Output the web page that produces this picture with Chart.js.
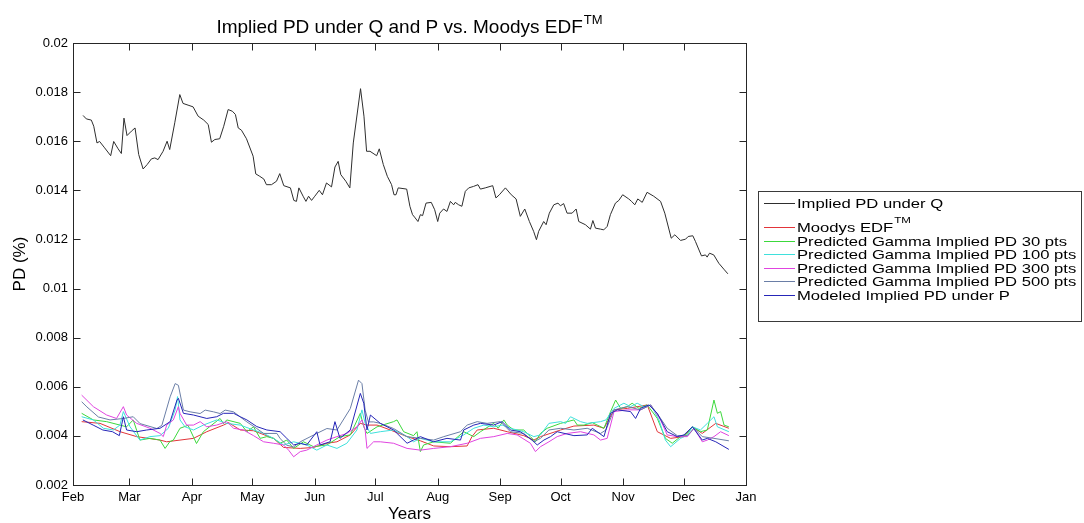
<!DOCTYPE html>
<html>
<head>
<meta charset="utf-8">
<title>Implied PD under Q and P vs. Moodys EDF</title>
<script src="https://cdn.jsdelivr.net/npm/chart.js@4.4.1/dist/chart.umd.min.js"></script>
<style>
  html, body { margin: 0; padding: 0; background: #ffffff; }
  canvas { display: block; }
</style>
</head>
<body>
<canvas id="pd" width="1084" height="523"></canvas>
<script>
// Month boundaries as day offsets from 1 Feb, and their labels
const monthDays = [0, 28, 59, 89, 120, 150, 181, 212, 242, 273, 303, 334];
const monthLabels = ['Feb', 'Mar', 'Apr', 'May', 'Jun', 'Jul', 'Aug', 'Sep', 'Oct', 'Nov', 'Dec', 'Jan'];
const yTickValues = [0.002, 0.004, 0.006, 0.008, 0.01, 0.012, 0.014, 0.016, 0.018, 0.02];

// Series: [day offset from 1 Feb, probability of default]
const impliedQ = [
  [5.0,0.01705],[6.6,0.01691],[9.1,0.01686],[10.3,0.01661],[11.9,0.01593],[13.2,0.01599],[15.7,0.01573],[18.7,0.01541],
  [20.2,0.01599],[22.4,0.01569],[24.0,0.01550],[25.3,0.01694],[26.8,0.01623],[29.0,0.01641],[30.8,0.01654],[32.6,0.01546],
  [34.8,0.01487],[36.8,0.01505],[38.9,0.01528],[40.6,0.01532],[42.2,0.01525],[44.7,0.01559],[46.7,0.01600],[48.0,0.01566],
  [50.5,0.01675],[53.0,0.01790],[54.6,0.01754],[57.1,0.01747],[59.6,0.01740],[62.1,0.01702],[64.9,0.01686],[67.1,0.01668],
  [68.7,0.01596],[70.4,0.01607],[72.8,0.01610],[74.8,0.01661],[77.0,0.01729],[79.1,0.01722],[80.6,0.01709],[82.0,0.01654],
  [83.6,0.01645],[86.1,0.01610],[89.4,0.01539],[90.7,0.01467],[92.7,0.01457],[94.7,0.01446],[96.0,0.01423],[98.5,0.01423],
  [101.0,0.01437],[102.6,0.01468],[104.6,0.01419],[107.9,0.01410],[109.6,0.01359],[110.9,0.01355],[112.1,0.01410],[114.2,0.01376],
  [115.6,0.01355],[116.9,0.01376],[118.4,0.01359],[120.0,0.01376],[122.2,0.01400],[123.8,0.01382],[125.8,0.01430],[128.3,0.01414],
  [130.0,0.01495],[131.6,0.01518],[132.9,0.01464],[135.4,0.01437],[137.4,0.01410],[139.1,0.01593],[142.7,0.01814],[144.4,0.01702],
  [145.7,0.01559],[147.4,0.01559],[150.7,0.01541],[152.0,0.01569],[154.0,0.01505],[156.0,0.01457],[158.1,0.01423],[159.3,0.01382],
  [160.3,0.01382],[161.4,0.01410],[165.6,0.01405],[167.2,0.01335],[168.5,0.01301],[169.5,0.01291],[171.2,0.01273],[172.4,0.01301],
  [173.5,0.01297],[175.2,0.01348],[177.8,0.01351],[179.5,0.01321],[181.0,0.01273],[182.0,0.01307],[183.9,0.01324],[185.6,0.01314],
  [187.3,0.01355],[188.9,0.01341],[189.7,0.01351],[191.4,0.01341],[193.0,0.01335],[194.7,0.01396],[196.4,0.01410],[198.8,0.01416],
  [201.0,0.01423],[202.2,0.01405],[204.6,0.01410],[208.3,0.01419],[209.9,0.01369],[211.6,0.01382],[214.6,0.01410],[217.5,0.01382],
  [219.9,0.01365],[222.0,0.01294],[224.2,0.01324],[226.5,0.01273],[228.6,0.01233],[230.0,0.01199],[231.1,0.01233],[233.6,0.01273],
  [234.8,0.01260],[236.4,0.01307],[238.6,0.01341],[240.7,0.01348],[241.9,0.01337],[243.5,0.01346],[245.2,0.01307],[247.7,0.01307],
  [249.7,0.01324],[251.0,0.01273],[254.3,0.01260],[256.8,0.01242],[258.0,0.01277],[259.3,0.01246],[261.8,0.01242],[263.4,0.01239],
  [265.1,0.01253],[266.7,0.01301],[269.2,0.01348],[270.9,0.01359],[272.8,0.01382],[275.8,0.01365],[277.2,0.01355],[278.8,0.01341],
  [280.3,0.01365],[282.5,0.01351],[284.9,0.01392],[288.2,0.01376],[291.6,0.01355],[293.7,0.01307],[296.9,0.01205],[298.7,0.01219],
  [301.5,0.01196],[304.0,0.01201],[305.3,0.01212],[307.6,0.01215],[308.9,0.01192],[311.9,0.01133],[313.9,0.01137],[314.7,0.01128],
  [315.9,0.01144],[318.0,0.01137],[320.5,0.01103],[323.0,0.01079],[325.0,0.01060]
];

const moodysEdf = [
  [4.3,0.00458],[13.4,0.00451],[23.4,0.00417],[31.6,0.00397],[43.2,0.00383],[46.5,0.00376],[59.8,0.0039],[66.4,0.00417],
  [74.7,0.00444],[77.2,0.00454],[83,0.00424],[89.6,0.00421],[99.5,0.0039],[104.5,0.00353],[112.8,0.00349],[119.4,0.00353],
  [126,0.0037],[131,0.00376],[137.6,0.00404],[142.6,0.00451],[145.9,0.00444],[150.9,0.00444],[157.5,0.00424],[165.8,0.00397],
  [172.4,0.0038],[179,0.00359],[187.3,0.00356],[195.6,0.00359],[198,0.00397],[200.6,0.00424],[208.8,0.00431],[215.5,0.00417],
  [223.7,0.00401],[228.7,0.00383],[232,0.00397],[242,0.00424],[248.6,0.0044],[258.5,0.00444],[263.5,0.00431],[268.5,0.00506],
  [275.1,0.00512],[285,0.00526],[290,0.00417],[296.6,0.0039],[303.2,0.00397],[307.4,0.00437],[312.3,0.0041],[319,0.00451],
  [325.5,0.00431]
];

const gamma30 = [
  [4.3,0.00492],[10.1,0.00465],[16.7,0.00458],[23.3,0.00444],[26.6,0.00437],[29.9,0.00465],[33.2,0.00383],[38.2,0.0039],
  [43.2,0.00383],[45.7,0.00349],[48,0.00376],[49.8,0.00383],[53.1,0.00431],[57.1,0.00443],[61.3,0.00369],[64.7,0.00417],
  [73,0.00471],[74.7,0.0045],[76.3,0.00465],[83,0.00451],[86.3,0.00417],[89.6,0.00437],[92.9,0.0039],[96.2,0.00397],
  [99.5,0.0039],[102.8,0.0037],[106.1,0.00383],[109.5,0.00349],[114.4,0.00376],[119.4,0.00356],[126,0.00363],[132.5,0.00397],
  [137.6,0.00404],[142.6,0.00492],[144.3,0.00437],[145.9,0.0041],[150.9,0.00437],[159.1,0.00458],[160.8,0.00465],[164.1,0.00417],
  [169,0.00401],[170.7,0.00417],[172.4,0.00336],[174,0.00363],[179,0.00376],[187.3,0.0037],[193.9,0.00417],[198.9,0.00397],
  [202.2,0.00417],[208.8,0.00451],[211,0.00431],[213.8,0.00465],[215.5,0.00444],[218.8,0.00424],[223.7,0.00424],[227,0.00397],
  [229.5,0.00376],[232,0.0041],[235.3,0.00431],[242,0.00451],[248.6,0.00465],[250.3,0.00444],[253.6,0.00444],[257.7,0.00454],
  [263.5,0.00431],[266.8,0.00499],[269.3,0.00546],[271.8,0.00512],[275.1,0.00519],[277.5,0.00533],[280.9,0.00512],[285,0.00526],
  [290,0.00471],[294,0.0039],[297.4,0.0037],[301.5,0.00397],[304.9,0.0041],[307.4,0.00437],[311.4,0.00417],[314.8,0.00424],
  [318.1,0.00546],[319.8,0.00492],[321.4,0.00499],[323.1,0.00444],[325.5,0.00437]
];

const gamma100 = [
  [4.3,0.00478],[10.1,0.00465],[15.1,0.00431],[20,0.00424],[23.3,0.00444],[25,0.00499],[28.3,0.00437],[33.2,0.00383],
  [38.2,0.00397],[43.2,0.00401],[47.3,0.00431],[50.7,0.00506],[51.9,0.0056],[53.1,0.00465],[55.6,0.00437],[59.8,0.00424],
  [64.7,0.00444],[71.3,0.00465],[76.3,0.00451],[83,0.00444],[89.6,0.00424],[94.6,0.0041],[99.5,0.0039],[104.5,0.00363],
  [109.5,0.00376],[116,0.00363],[121,0.00342],[126,0.00363],[131,0.00349],[135.9,0.0037],[140.9,0.00424],[143.4,0.00506],
  [145,0.00451],[147.6,0.0041],[152.5,0.00417],[159.1,0.00424],[165.8,0.00397],[169,0.00376],[172.4,0.0039],[179,0.00376],
  [187.3,0.00376],[193.9,0.00404],[198.9,0.00431],[203.9,0.00444],[208.8,0.00437],[213,0.00444],[217.1,0.00431],[223.7,0.00417],
  [228.7,0.00397],[232,0.00404],[236.2,0.00451],[242,0.00458],[244.5,0.00451],[246.9,0.00478],[251.9,0.00458],[255.2,0.00451],
  [261.8,0.00458],[264.5,0.00465],[268.5,0.00512],[273.4,0.00533],[276.7,0.00519],[280,0.00533],[283.4,0.00519],[286.7,0.00526],
  [290.8,0.00465],[294,0.00383],[296.6,0.00356],[301.5,0.0039],[304.9,0.00404],[307.4,0.00437],[311.4,0.00424],[314.8,0.00451],
  [318.1,0.00478],[319.8,0.00437],[325.5,0.00417]
];

const gamma300 = [
  [4.3,0.00566],[10.1,0.00519],[16.7,0.00485],[21.6,0.00471],[25,0.00519],[26.6,0.00485],[31.6,0.00451],[38.2,0.00431],
  [43.2,0.0041],[44.8,0.00397],[46.5,0.00444],[49.8,0.00465],[52.3,0.00519],[53.1,0.00492],[56.4,0.00444],[59.8,0.00444],
  [63.1,0.00458],[66.4,0.00437],[71.3,0.00444],[76.3,0.00458],[79.7,0.00431],[84.6,0.00424],[89.6,0.00401],[94.6,0.00376],
  [99.5,0.0037],[104.5,0.00363],[107,0.00342],[109.5,0.00315],[112.8,0.00336],[116,0.00342],[121,0.00363],[126,0.00383],
  [131,0.00397],[135.9,0.0041],[140.9,0.00437],[143.4,0.00465],[145,0.00424],[145.9,0.00349],[149.2,0.00376],[152.5,0.00376],
  [159.1,0.0037],[165.8,0.00349],[172.4,0.00342],[179,0.00349],[187.3,0.00356],[195.6,0.0037],[202.2,0.0039],[208.8,0.00397],
  [215.5,0.0041],[220.4,0.00404],[227,0.0037],[229.5,0.00336],[232,0.00356],[236.2,0.00376],[240.3,0.00397],[245.2,0.0041],
  [251.9,0.00417],[258.5,0.00404],[261.8,0.00383],[265.1,0.0039],[268.5,0.00499],[275.1,0.00506],[281.7,0.00506],[286.7,0.00526],
  [291.6,0.00465],[294.9,0.00404],[299.9,0.00397],[304.9,0.00397],[308.2,0.00431],[312.3,0.00376],[314.8,0.00383],[318.1,0.00397],
  [321.4,0.00417],[325.5,0.00401]
];

const gamma500 = [
  [4.3,0.00539],[6.9,0.00518],[12.6,0.00477],[18.4,0.00465],[25,0.00471],[29.9,0.00478],[33.3,0.0045],[41.6,0.0043],
  [44.1,0.00443],[48.2,0.00559],[50.7,0.00613],[52.3,0.00606],[54.8,0.00505],[58.1,0.00498],[63.1,0.00491],[65.6,0.00505],
  [69.7,0.00498],[73,0.00491],[75.5,0.00505],[79.7,0.00498],[83,0.00477],[86.3,0.00457],[91.2,0.0043],[94.6,0.0041],
  [101.2,0.0041],[102.8,0.00389],[106.1,0.00362],[109.5,0.00355],[112.8,0.00376],[121,0.0041],[126,0.0043],[131,0.00424],
  [137.6,0.00511],[141.7,0.00627],[143.4,0.00613],[145,0.00505],[146.6,0.00457],[149.2,0.00457],[152.5,0.00451],[159.1,0.0043],
  [165.7,0.00397],[172.4,0.0039],[179,0.00383],[184,0.00397],[192.3,0.00417],[195.6,0.00444],[200.6,0.00458],[205.5,0.00451],
  [212.1,0.00458],[217.1,0.00417],[223.7,0.0041],[228.7,0.00376],[232,0.0039],[236.2,0.00424],[242,0.00431],[248.6,0.00424],
  [255.2,0.00431],[261.8,0.0041],[264.5,0.00424],[268.5,0.00506],[275.1,0.00519],[281.7,0.00506],[286.7,0.00526],[291.6,0.00471],
  [294.9,0.00431],[299.9,0.00401],[304.9,0.00401],[308.2,0.00431],[312.3,0.00397],[318.1,0.0039],[325.5,0.0038]
];

const modeledP = [
  [4.9,0.00465],[10,0.00444],[14.8,0.00424],[19.6,0.00417],[23,0.00401],[25,0.00478],[26.6,0.00424],[31.6,0.00417],
  [36.6,0.00424],[43.2,0.00431],[48.2,0.00458],[51.6,0.00546],[52.3,0.00553],[54.8,0.00492],[59.8,0.00485],[66.4,0.00471],
  [71.3,0.00478],[74.7,0.00492],[79.7,0.00492],[83,0.00478],[86.3,0.00465],[91.2,0.00438],[96.2,0.00424],[102.8,0.00417],
  [106.1,0.0039],[109.5,0.00363],[112.8,0.0037],[116,0.00363],[121,0.00417],[122.6,0.00363],[127.6,0.00376],[130,0.00458],
  [132.5,0.0039],[137.6,0.00424],[142.6,0.00573],[144.3,0.00533],[145.9,0.00424],[147.6,0.00485],[152.5,0.00451],[159.1,0.00424],
  [165.8,0.0037],[169,0.00383],[172.4,0.00397],[179,0.00376],[185.6,0.0039],[192.3,0.00383],[193.9,0.00424],[198.9,0.00444],
  [202.2,0.00451],[208.8,0.00444],[213,0.00458],[217.1,0.00424],[222,0.00417],[227.9,0.00383],[230.4,0.00363],[233.7,0.00383],
  [237,0.00397],[240.3,0.00417],[248.6,0.00401],[255.2,0.00404],[257.7,0.00431],[263.5,0.00397],[266.8,0.00492],[270.1,0.00506],
  [276.7,0.00499],[279.2,0.00471],[281.7,0.00512],[285.8,0.00526],[290,0.00492],[294.9,0.00417],[299.9,0.00397],[303.2,0.00404],
  [307.4,0.00437],[312.3,0.00383],[314.8,0.0039],[319,0.00376],[325.5,0.00345]
];

// Legend entries: main text, optional superscript
const seriesNames = [
  ['Implied PD under Q', ''],
  ['Moodys EDF', 'TM'],
  ['Predicted Gamma Implied PD 30 pts', ''],
  ['Predicted Gamma Implied PD 100 pts', ''],
  ['Predicted Gamma Implied PD 300 pts', ''],
  ['Predicted Gamma Implied PD 500 pts', ''],
  ['Modeled Implied PD under P', '']
];
const seriesColors = ['#2e2e2e', '#e2353a', '#3cd83c', '#3fe0dc', '#e044e0', '#6a7ea6', '#2626b8'];
const seriesData = [impliedQ, moodysEdf, gamma30, gamma100, gamma300, gamma500, modeledP];

const FONT = '"Liberation Sans", Arial, sans-serif';

// Draw text horizontally stretched by sx, starting at x (left aligned)
function stretchedText(ctx, text, x, y, sx) {
  ctx.save();
  ctx.translate(x, y);
  ctx.scale(sx, 1);
  ctx.fillText(text, 0, 0);
  const w = ctx.measureText(text).width * sx;
  ctx.restore();
  return w;
}

// Axes box with inward ticks, title with superscript, boxed legend
const framePlugin = {
  id: 'framePlugin',
  afterDraw(chart) {
    const { ctx, chartArea: area, scales } = chart;
    const L = Math.round(area.left) + 0.5, R = Math.round(area.right) + 0.5;
    const T = Math.round(area.top) + 0.5, B = Math.round(area.bottom) + 0.5;
    const tick = 7;
    ctx.save();
    ctx.strokeStyle = '#262626';
    ctx.lineWidth = 1;
    ctx.strokeRect(L, T, R - L, B - T);
    ctx.beginPath();
    monthDays.forEach(d => {
      const px = Math.round(scales.x.getPixelForValue(d)) + 0.5;
      ctx.moveTo(px, B); ctx.lineTo(px, B - tick);
      ctx.moveTo(px, T); ctx.lineTo(px, T + tick);
    });
    yTickValues.forEach(v => {
      const py = Math.round(scales.y.getPixelForValue(v)) + 0.5;
      ctx.moveTo(L, py); ctx.lineTo(L + tick, py);
      ctx.moveTo(R, py); ctx.lineTo(R - tick, py);
    });
    ctx.stroke();

    // Title
    ctx.fillStyle = '#000000';
    ctx.textBaseline = 'alphabetic';
    const mainTitle = 'Implied PD under Q and P vs. Moodys EDF';
    ctx.font = '19px ' + FONT;
    const wMain = ctx.measureText(mainTitle).width;
    ctx.font = '13px ' + FONT;
    const wSup = ctx.measureText('TM').width;
    const cx = (area.left + area.right) / 2;
    const tx = cx - (wMain + wSup + 1) / 2;
    ctx.font = '19px ' + FONT;
    ctx.fillText(mainTitle, tx, 33);
    ctx.font = '13px ' + FONT;
    ctx.fillText('TM', tx + wMain + 1, 24);

    // Legend
    const bx = 758.5, by = 191.5, bw = 323, bh = 130;
    ctx.fillStyle = '#ffffff';
    ctx.fillRect(bx, by, bw, bh);
    ctx.strokeStyle = '#3a3a3a';
    ctx.strokeRect(bx, by, bw, bh);
    const rowY = [202.5, 226.5, 240.5, 254, 267.5, 281, 294.5];
    seriesNames.forEach((entry, i) => {
      const yy = rowY[i];
      ctx.strokeStyle = seriesColors[i];
      ctx.beginPath();
      ctx.moveTo(764, Math.round(yy) + 0.5);
      ctx.lineTo(795, Math.round(yy) + 0.5);
      ctx.stroke();
      ctx.fillStyle = '#000000';
      ctx.font = '13px ' + FONT;
      const w = stretchedText(ctx, entry[0], 797, yy + 5, 1.28);
      if (entry[1]) {
        ctx.font = '9px ' + FONT;
        stretchedText(ctx, entry[1], 797 + w + 1, yy - 4, 1.28);
      }
    });
    ctx.restore();
  }
};

const datasets = seriesData.map((pts, i) => ({
  label: seriesNames[i][0] + seriesNames[i][1],
  data: pts.map(p => ({ x: p[0], y: p[1] })),
  borderColor: seriesColors[i],
  backgroundColor: seriesColors[i],
  borderWidth: 1,
  pointRadius: 0,
  tension: 0,
  fill: false,
  order: seriesData.length - i
}));

new Chart(document.getElementById('pd'), {
  type: 'line',
  data: { datasets },
  options: {
    responsive: false,
    animation: false,
    devicePixelRatio: 1,
    layout: { padding: { top: 43, right: 338, bottom: 0, left: 0 } },
    plugins: { legend: { display: false }, tooltip: { enabled: false }, title: { display: false } },
    scales: {
      x: {
        type: 'linear',
        min: monthDays[0],
        max: monthDays[monthDays.length - 1],
        afterBuildTicks: s => { s.ticks = monthDays.map(v => ({ value: v })); },
        afterFit: s => { s.height = 38; },
        grid: { display: false, drawTicks: false },
        border: { display: false },
        ticks: {
          autoSkip: false,
          maxRotation: 0,
          padding: 5,
          color: '#000000',
          font: { family: FONT, size: 13 },
          callback: v => monthLabels[monthDays.indexOf(v)]
        },
        title: {
          display: true,
          text: 'Years',
          color: '#000000',
          font: { family: FONT, size: 17 },
          padding: { top: 0, bottom: -2 }
        }
      },
      y: {
        type: 'linear',
        min: yTickValues[0],
        max: yTickValues[yTickValues.length - 1],
        afterBuildTicks: s => { s.ticks = yTickValues.map(v => ({ value: v })); },
        afterFit: s => { s.width = 73; },
        grid: { display: false, drawTicks: false },
        border: { display: false },
        ticks: {
          padding: 5,
          color: '#000000',
          font: { family: FONT, size: 13 },
          callback: v => String(parseFloat(v.toFixed(3)))
        },
        title: {
          display: true,
          text: 'PD (%)',
          color: '#000000',
          font: { family: FONT, size: 17 },
          padding: { top: 10, bottom: 0 }
        }
      }
    }
  },
  plugins: [framePlugin]
});
</script>
</body>
</html>
